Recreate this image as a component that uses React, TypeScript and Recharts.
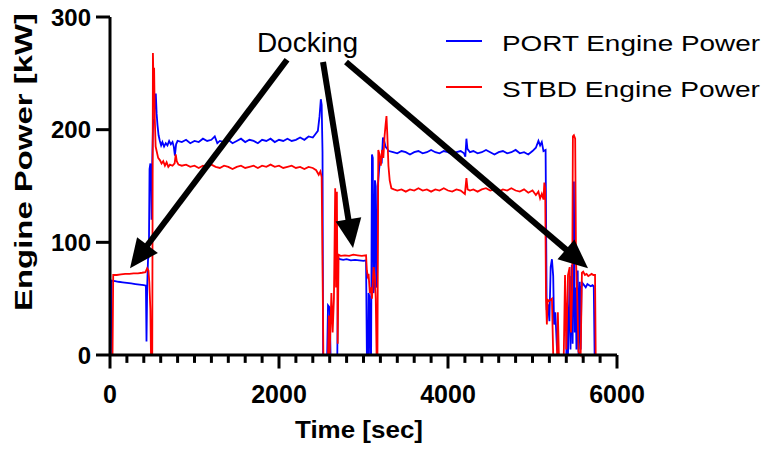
import { LineChart, Line, XAxis, YAxis, Legend, ReferenceLine, ReferenceDot } from 'recharts'

const FONT = '"Liberation Sans", Arial, sans-serif'

// PORT engine (blue)
const portTime = [
  0, 10, 18, 60, 100, 150, 200, 250, 300, 350, 400, 425, 432, 440, 450, 460, 468, 478, 485, 492,
  500, 510, 522, 532, 542, 552, 562, 575, 590, 605, 620, 640, 660, 680, 700, 720, 740, 755, 768, 782,
  800, 850, 900, 950, 1000, 1050, 1100, 1150, 1200, 1240, 1270, 1300, 1350, 1400, 1450, 1500, 1550, 1600, 1650, 1700,
  1750, 1800, 1850, 1900, 1950, 2000, 2050, 2100, 2150, 2200, 2250, 2300, 2350, 2400, 2430, 2460, 2480, 2495, 2505, 2515,
  2522, 2570, 2580, 2600, 2610, 2690, 2700, 2720, 2760, 2800, 2850, 2900, 2950, 3000, 3030, 3040, 3055, 3060, 3070, 3078,
  3090, 3100, 3110, 3118, 3125, 3135, 3145, 3150, 3160, 3170, 3185, 3200, 3215, 3230, 3245, 3260, 3280, 3300, 3350, 3400,
  3450, 3500, 3550, 3600, 3650, 3700, 3750, 3800, 3850, 3900, 3950, 4000, 4050, 4100, 4150, 4190, 4205, 4218, 4230, 4260,
  4300, 4350, 4400, 4450, 4500, 4550, 4600, 4650, 4700, 4750, 4800, 4850, 4900, 4950, 5000, 5040, 5070, 5090, 5110, 5130,
  5155, 5168, 5185, 5200, 5215, 5230, 5245, 5255, 5270, 5290, 5310, 5400, 5410, 5420, 5440, 5450, 5465, 5475, 5490, 5500,
  5510, 5520, 5535, 5545, 5560, 5570, 5580, 5590, 5610, 5630, 5650, 5670, 5690, 5710, 5725, 5735, 6000,
]
const portPower = [
  0, 0, 66, 65.5, 65, 64.5, 64, 63.5, 63, 62.5, 62, 61.5, 12, 60, 85, 88, 165, 170, 160, 120,
  172, 206, 210, 226, 232, 214, 204, 195, 190, 186, 189, 185, 188, 186, 190, 187, 189, 185, 177, 187,
  190, 189, 191, 188, 190, 189, 192, 190, 191, 194, 188, 190, 189, 191, 188, 190, 192, 189, 191, 190,
  188, 191, 190, 192, 189, 191, 190, 192, 190, 191, 193, 191, 194, 193, 196, 199, 212, 227, 222, 180,
  0, 0, 44, 42, 0, 0, 86, 85, 84.5, 85, 84, 84.5, 84, 83.5, 84, 0, 0, 55, 52, 0,
  0, 178, 175, 55, 60, 155, 150, 62, 60, 150, 165, 175, 170, 193, 190, 185, 183, 181, 180, 179,
  181, 180, 178, 180, 181, 179, 180, 182, 180, 179, 181, 180, 178, 180, 181, 179, 176, 192, 183, 180,
  181, 179, 180, 182, 180, 178, 180, 181, 179, 180, 182, 179, 180, 178, 181, 184, 190, 186, 189, 181,
  182, 40, 45, 30, 78, 85, 70, 27, 38, 5, 0, 0, 45, 0, 70, 5, 80, 10, 154, 20,
  60, 5, 75, 0, 65, 5, 60, 64, 62, 60, 63, 62, 61, 62, 61, 0, 0,
]

// STBD engine (red)
const stbdTime = [
  0, 30, 38, 80, 130, 180, 230, 280, 330, 380, 420, 440, 455, 465, 478, 485, 500, 508, 515, 522,
  530, 540, 555, 570, 590, 610, 630, 650, 670, 690, 710, 740, 765, 778, 790, 810, 850, 900, 950, 1000,
  1050, 1100, 1150, 1200, 1250, 1300, 1350, 1400, 1450, 1500, 1550, 1600, 1650, 1700, 1750, 1800, 1850, 1900, 1950, 2000,
  2050, 2100, 2150, 2200, 2250, 2300, 2350, 2400, 2440, 2470, 2490, 2505, 2515, 2525, 2580, 2590, 2600, 2620, 2635, 2650,
  2665, 2675, 2685, 2695, 2705, 2730, 2780, 2830, 2880, 2930, 2980, 3030, 3040, 3050, 3060, 3075, 3090, 3100, 3120, 3135,
  3145, 3155, 3165, 3175, 3190, 3205, 3220, 3235, 3250, 3262, 3272, 3282, 3295, 3310, 3330, 3360, 3400, 3450, 3500, 3550,
  3600, 3650, 3700, 3750, 3800, 3850, 3900, 3950, 4000, 4050, 4100, 4150, 4200, 4218, 4232, 4260, 4300, 4350, 4400, 4450,
  4500, 4550, 4600, 4650, 4700, 4750, 4800, 4850, 4900, 4950, 5000, 5040, 5070, 5090, 5110, 5130, 5140, 5150, 5160, 5170,
  5180, 5200, 5230, 5245, 5290, 5300, 5312, 5370, 5385, 5400, 5420, 5440, 5455, 5470, 5478, 5490, 5505, 5515, 5530, 5545,
  5570, 5585, 5600, 5620, 5640, 5660, 5680, 5700, 5720, 5740, 5748, 6000,
]
const stbdPower = [
  0, 0, 71, 71, 71.5, 72, 72, 72.5, 72.5, 73, 73.5, 77, 75, 65, 40, 0, 0, 268, 240, 255,
  210, 185, 180, 175, 173, 170, 172, 168, 171, 167, 169, 168, 170, 178, 172, 169, 168, 169, 167, 168,
  166, 168, 167, 169, 167, 166, 168, 167, 165, 167, 168, 166, 167, 168, 166, 168, 167, 169, 167, 168,
  166, 167, 168, 166, 167, 165, 167, 166, 164, 160, 163, 158, 80, 0, 0, 35, 0, 55, 20, 50,
  148, 60, 145, 10, 89, 88, 88.5, 88, 89, 88.5, 88, 88.5, 75, 70, 72, 55, 60, 50, 78, 68,
  50, 0, 0, 182, 178, 168, 182, 175, 195, 205, 212, 195, 168, 155, 148, 147, 146, 147, 145, 147,
  146, 148, 146, 147, 145, 147, 146, 148, 146, 145, 147, 146, 143, 157, 147, 146, 147, 145, 147, 148,
  146, 147, 145, 147, 146, 148, 146, 145, 147, 144, 146, 142, 145, 139, 143, 138, 153, 148, 50, 27,
  49, 48, 50, 0, 0, 38, 0, 0, 71, 5, 71, 78, 20, 60, 194, 195, 192, 84, 49, 3,
  0, 73, 74, 71, 72, 70, 71, 72, 71, 71, 0, 0,
]

const xTicks = [
  0, 200, 400, 600, 800, 1000, 1200, 1400, 1600, 1800, 2000, 2200, 2400, 2600, 2800, 3000,
  3200, 3400, 3600, 3800, 4000, 4200, 4400, 4600, 4800, 5000, 5200, 5400, 5600, 5800, 6000,
]
const yTicks = [0, 100, 200, 300]

// "Docking" arrows: [start, tip] in data units
const arrows = [
  [{ x: 2095, y: 262 }, { x: 237, y: 77 }],
  [{ x: 2521, y: 260 }, { x: 2876, y: 95 }],
  [{ x: 2793, y: 260 }, { x: 5657, y: 77 }],
]

const portData = portTime.map((t, i) => ({ t, p: portPower[i] }))
const stbdData = stbdTime.map((t, i) => ({ t, p: stbdPower[i] }))

const Arrow = (props: any) => {
  const { x1, y1, x2, y2 } = props
  const dx = x2 - x1
  const dy = y2 - y1
  const len = Math.hypot(dx, dy)
  const ux = dx / len
  const uy = dy / len
  const head = 29
  const half = 13
  const bx = x2 - ux * head
  const by = y2 - uy * head
  return (
    <g>
      <line x1={x1} y1={y1} x2={bx + ux * 3} y2={by + uy * 3} stroke="#000" strokeWidth={6} />
      <polygon
        points={`${x2},${y2} ${bx - uy * half},${by + ux * half} ${bx + uy * half},${by - ux * half}`}
        fill="#000"
      />
    </g>
  )
}

// x tick marks (minor every 200, long ones every 2000) hang under the axis
const TickMark = (props: any) => {
  const { x1, y1, x2, y2 } = props
  return <line x1={x1} y1={y1} x2={x2} y2={y2} stroke="#000" strokeWidth={3} />
}

const XTick = ({ x, y, payload }: any) => {
  if (payload.value % 2000 !== 0) return <g />
  return (
    <text x={x} y={y + 48} textAnchor="middle" fill="#000" fontSize={25} fontWeight={700} fontFamily={FONT}>
      {payload.value}
    </text>
  )
}

const renderLegend = ({ payload }: any) => (
  <svg width={330} height={80} style={{ display: 'block' }}>
    {(payload || []).map((entry: any, i: number) => (
      <g key={entry.value} transform={`translate(0, ${i * 46})`}>
        <line x1={6} x2={42} y1={19} y2={19} stroke={entry.color} strokeWidth={1.8} />
        <text x={62} y={29} fontSize={22} fill="#000" fontFamily={FONT} textLength={258} lengthAdjust="spacingAndGlyphs">
          {entry.value}
        </text>
      </g>
    ))}
  </svg>
)

const renderXLabel = () => (
  <text x={359} y={438} textAnchor="middle" fontSize={24} fontWeight={700} fill="#000" fontFamily={FONT}
    textLength={128} lengthAdjust="spacingAndGlyphs">
    Time [sec]
  </text>
)

const renderYLabel = () => (
  <text transform="translate(32,162) rotate(-90)" textAnchor="middle" fontSize={24} fontWeight={700} fill="#000"
    fontFamily={FONT} textLength={298} lengthAdjust="spacingAndGlyphs">
    Engine Power [kW]
  </text>
)

const renderDocking = (props: any) => {
  const vb = props.viewBox || {}
  return (
    <text x={vb.x} y={vb.y} textAnchor="middle" fontSize={28} fill="#000" fontFamily={FONT}>
      Docking
    </text>
  )
}

export default function App() {
  return (
    <div style={{ position: 'absolute', left: 0, top: 0, width: 766, height: 449, background: '#fff' }}>
      <LineChart width={766} height={449} margin={{ top: 17, right: 149, bottom: 0, left: 0 }}>
        <XAxis
          type="number"
          dataKey="t"
          domain={[0, 6000]}
          ticks={xTicks}
          interval={0}
          height={94}
          tickSize={0}
          tickMargin={0}
          tickLine={false}
          tick={<XTick />}
          axisLine={{ stroke: '#000', strokeWidth: 3 }}
          label={renderXLabel}
        />
        <YAxis
          type="number"
          domain={[0, 300]}
          ticks={yTicks}
          interval={0}
          width={110}
          tickSize={14}
          tickMargin={5}
          tickLine={{ stroke: '#000', strokeWidth: 3 }}
          axisLine={{ stroke: '#000', strokeWidth: 3 }}
          tick={{ fill: '#000', fontSize: 24, fontWeight: 700, fontFamily: FONT }}
          label={renderYLabel}
        />
        <Legend
          layout="vertical"
          align="center"
          verticalAlign="middle"
          wrapperStyle={{ top: 22, left: 440, width: 330 }}
          content={renderLegend}
        />
        <Line
          data={portData}
          dataKey="p"
          name="PORT Engine Power"
          stroke="#0000ff"
          strokeWidth={1.8}
          dot={false}
          isAnimationActive={false}
        />
        <Line
          data={stbdData}
          dataKey="p"
          name="STBD Engine Power"
          stroke="#ff0000"
          strokeWidth={1.8}
          dot={false}
          isAnimationActive={false}
        />
        {xTicks.map((v) => (
          <ReferenceLine
            key={`xt${v}`}
            segment={[{ x: v, y: 0 }, { x: v, y: v % 2000 === 0 ? -12 : -7 }]}
            shape={TickMark}
            ifOverflow="visible"
          />
        ))}
        {arrows.map((seg, i) => (
          <ReferenceLine key={i} segment={seg} shape={Arrow} ifOverflow="visible" />
        ))}
        <ReferenceDot x={2337} y={269} r={0} fill="none" stroke="none" ifOverflow="visible" label={renderDocking} />
      </LineChart>
    </div>
  )
}
